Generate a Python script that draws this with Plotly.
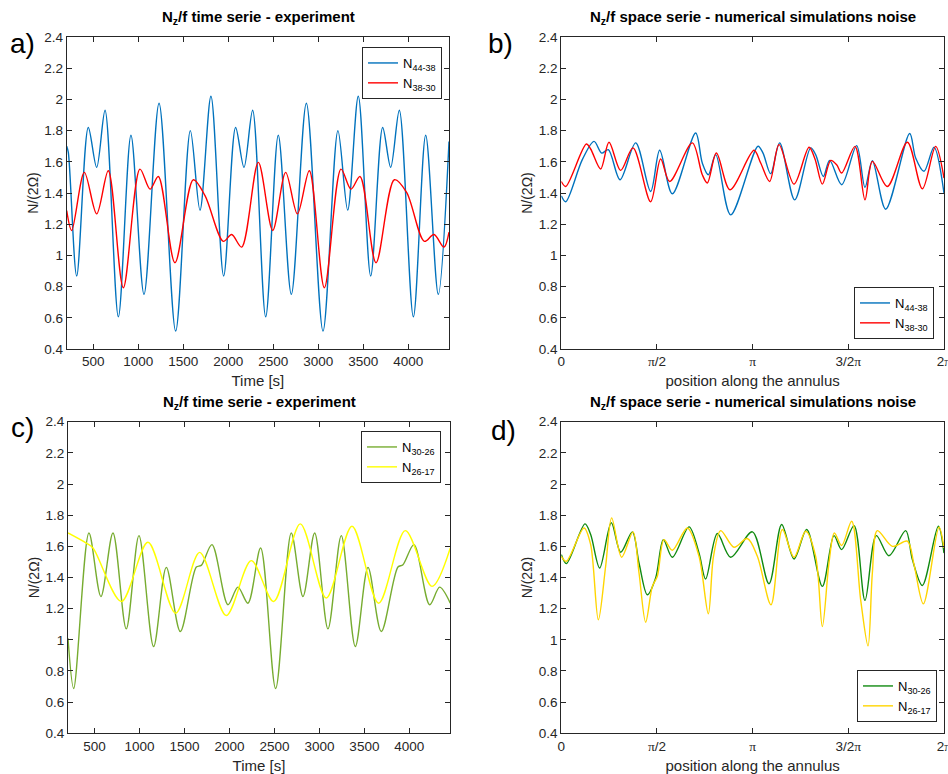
import plotly.graph_objects as go

# ---------------- data (extrema & key points) ----------------
# Panel a: experiment time series, time [s]
a_t_44_38 = [204, 222, 315, 444, 537, 630, 778, 918, 1063, 1230, 1415, 1578, 1685, 1807, 1948, 2081, 2174,
             2270, 2415, 2555, 2700, 2867, 3052, 3218, 3326, 3444, 3582, 3715, 3804, 3900, 4056, 4193, 4333, 4452]
a_v_44_38 = [1.70, 1.66, 0.868, 1.82, 1.564, 1.93, 0.606, 1.77, 0.75, 1.975, 0.515, 1.80, 1.29, 2.02, 0.868, 1.82, 1.564,
             1.93, 0.606, 1.77, 0.75, 1.975, 0.515, 1.80, 1.29, 2.02, 0.868, 1.82, 1.564, 1.93, 0.606, 1.77, 0.75, 1.73]
a_t_38_30 = [204, 259, 400, 537, 666, 833, 1018, 1130, 1222, 1407, 1611, 1741, 1944, 2037, 2148, 2333, 2493,
             2637, 2767, 2900, 3067, 3252, 3363, 3463, 3641, 3845, 3981, 4178, 4285, 4396, 4452]
a_v_38_30 = [1.287, 1.16, 1.532, 1.266, 1.543, 0.793, 1.553, 1.425, 1.506, 0.953, 1.485, 1.383, 1.09, 1.134, 1.053, 1.596, 1.16,
             1.532, 1.266, 1.543, 0.793, 1.553, 1.425, 1.506, 0.953, 1.485, 1.404, 1.09, 1.134, 1.053, 1.149]

# Panel b: numerical simulation, position along the annulus [rad]
b_x_44_38 = [0.0, 0.072, 0.345, 0.537, 0.663, 0.772, 0.964, 1.221, 1.467, 1.615, 1.823, 2.206, 2.315, 2.414, 2.535,
             2.781, 3.230, 3.312, 3.437, 3.585, 3.832, 4.094, 4.176, 4.302, 4.406, 4.603, 4.849, 4.986, 5.107, 5.326,
             5.720, 5.818, 5.955, 6.119, 6.283]
b_v_44_38 = [1.382, 1.344, 1.614, 1.731, 1.656, 1.678, 1.485, 1.721, 1.410, 1.674, 1.395, 1.785, 1.592, 1.517, 1.646,
             1.26, 1.70, 1.656, 1.524, 1.721, 1.356, 1.689, 1.646, 1.506, 1.609, 1.453, 1.704, 1.436, 1.607, 1.296,
             1.781, 1.624, 1.539, 1.693, 1.40]
b_x_38_30 = [0.0, 0.072, 0.411, 0.482, 0.646, 0.783, 0.975, 1.177, 1.467, 1.631, 1.779, 2.151, 2.315, 2.398, 2.546,
             2.770, 3.164, 3.274, 3.421, 3.574, 3.821, 4.067, 4.165, 4.286, 4.423, 4.521, 4.603, 4.822, 4.986, 5.107,
             5.353, 5.682, 5.928, 6.146, 6.283]
b_v_38_30 = [1.474, 1.442, 1.714, 1.682, 1.554, 1.725, 1.545, 1.689, 1.344, 1.618, 1.474, 1.721, 1.517, 1.464, 1.656,
             1.421, 1.674, 1.592, 1.474, 1.710, 1.457, 1.693, 1.618, 1.457, 1.609, 1.581, 1.528, 1.699, 1.356, 1.603,
             1.442, 1.725, 1.427, 1.699, 1.496]

# Panel c: experiment time series, time [s]
c_t_30_26 = [204, 267, 437, 570, 704, 852, 993, 1156, 1297, 1453, 1631, 1686, 1805, 1983, 2094, 2205, 2346, 2513,
             2687, 2817, 2947, 3095, 3243, 3399, 3540, 3688, 3873, 3929, 4051, 4226, 4337, 4455]
c_v_30_26 = [1.01, 0.688, 1.686, 1.278, 1.686, 1.07, 1.669, 0.957, 1.465, 1.053, 1.467, 1.478, 1.611, 1.225, 1.338, 1.235, 1.589, 0.688,
             1.686, 1.278, 1.686, 1.07, 1.669, 0.957, 1.465, 1.053, 1.467, 1.482, 1.611, 1.225, 1.338, 1.235]
c_t_26_17 = [204, 407, 482, 797, 1093, 1401, 1668, 1964, 2242, 2491, 2787, 3076, 3362, 3658, 3955, 4252, 4455]
c_v_26_17 = [1.686, 1.621, 1.589, 1.246, 1.626, 1.171, 1.561, 1.156, 1.508, 1.246, 1.744, 1.268, 1.729, 1.235, 1.701, 1.343, 1.589]

# Panel d: numerical simulation, position along the annulus [rad]
d_x_30_26 = [0.0, 0.083, 0.389, 0.482, 0.630, 0.821, 0.975, 1.166, 1.276, 1.412, 1.549, 1.675, 1.823, 2.097, 2.261,
             2.370, 2.562, 2.781, 3.137, 3.410, 3.618, 3.821, 4.029, 4.286, 4.477, 4.603, 4.806, 4.986, 5.172, 5.380,
             5.654, 5.764, 5.928, 6.190, 6.283]
d_v_30_26 = [1.547, 1.489, 1.744, 1.676, 1.461, 1.751, 1.562, 1.693, 1.493, 1.289, 1.397, 1.643, 1.530, 1.725, 1.557,
             1.390, 1.682, 1.530, 1.693, 1.360, 1.740, 1.519, 1.708, 1.343, 1.669, 1.579, 1.733, 1.253, 1.669, 1.540,
             1.701, 1.515, 1.349, 1.729, 1.557]
d_x_26_17 = [0.0, 0.083, 0.373, 0.482, 0.608, 0.728, 0.827, 0.991, 1.177, 1.276, 1.385, 1.495, 1.577, 1.686, 1.823,
             2.069, 2.261, 2.414, 2.499, 2.617, 2.835, 3.054, 3.219, 3.443, 3.629, 3.821, 4.012, 4.176, 4.286, 4.395,
             4.483, 4.603, 4.767, 4.915, 5.036, 5.107, 5.189, 5.435, 5.682, 5.791, 5.944, 6.201, 6.283]
d_v_26_17 = [1.536, 1.504, 1.718, 1.611, 1.128, 1.472, 1.783, 1.530, 1.693, 1.429, 1.113, 1.343, 1.408, 1.643, 1.575,
             1.718, 1.536, 1.167, 1.536, 1.701, 1.594, 1.650, 1.536, 1.225, 1.708, 1.530, 1.697, 1.536, 1.085, 1.494,
             1.686, 1.605, 1.761, 1.257, 0.961, 1.429, 1.701, 1.600, 1.633, 1.483, 1.231, 1.723, 1.59]

# axis ticks
y_ticks = [0.4, 0.6, 0.8, 1.0, 1.2, 1.4, 1.6, 1.8, 2.0, 2.2, 2.4]
y_ticklabels = ["0.4", "0.6", "0.8", "1", "1.2", "1.4", "1.6", "1.8", "2", "2.2", "2.4"]
time_ticks = [500, 1000, 1500, 2000, 2500, 3000, 3500, 4000]
time_ticklabels = ["500", "1000", "1500", "2000", "2500", "3000", "3500", "4000"]
pos_ticks = [0.0, 1.5707963, 3.1415927, 4.712389, 6.2831853]
PI = "<span style='font-family:Liberation Serif, Times New Roman, serif'>π</span>"
pos_ticklabels = ["0", PI + "/2", PI, "3/2" + PI, "2" + PI]

titles = ["<b>N<sub>z</sub>/f time serie - experiment</b>",
          "<b>N<sub>z</sub>/f space serie - numerical simulations noise</b>",
          "<b>N<sub>z</sub>/f time serie - experiment</b>",
          "<b>N<sub>z</sub>/f space serie - numerical simulations noise</b>"]
panel_labels = ["a)", "b)", "c)", "d)"]

# ---------------- figure ----------------
W, H = 948, 774
FONT = "Helvetica, Arial, Liberation Sans, sans-serif"
AX = "#262626"

fig = go.Figure()

def add(x, y, name, color, xa, ya, leg):
    fig.add_trace(go.Scatter(x=x, y=y, mode="lines", name=name,
                             line=dict(color=color, width=1.4, shape="spline", smoothing=0.9),
                             xaxis=xa, yaxis=ya, legend=leg, showlegend=True))

add(a_t_44_38, a_v_44_38, "N<sub>44-38</sub>", "#0072BD", "x", "y", "legend")
add(a_t_38_30, a_v_38_30, "N<sub>38-30</sub>", "#FF0000", "x", "y", "legend")
add(b_x_44_38, b_v_44_38, "N<sub>44-38</sub>", "#0072BD", "x2", "y2", "legend2")
add(b_x_38_30, b_v_38_30, "N<sub>38-30</sub>", "#FF0000", "x2", "y2", "legend2")
add(c_t_30_26, c_v_30_26, "N<sub>30-26</sub>", "#77AC30", "x3", "y3", "legend3")
add(c_t_26_17, c_v_26_17, "N<sub>26-17</sub>", "#FFFF00", "x3", "y3", "legend3")
add(d_x_30_26, d_v_30_26, "N<sub>30-26</sub>", "#108A10", "x4", "y4", "legend4")
add(d_x_26_17, d_v_26_17, "N<sub>26-17</sub>", "#FFD500", "x4", "y4", "legend4")

# domains in pixels -> paper fractions
def fx(px): return px / W
def fy(py): return 1 - py / H

doms = {
    1: ((66.7, 449.0), (37.0, 349.0)),
    2: ((561.3, 944.0), (37.0, 349.0)),
    3: ((68.0, 450.0), (421.7, 733.3)),
    4: ((561.3, 944.0), (421.7, 733.3)),
}

def xaxis(dom, kind):
    d = dict(domain=[fx(dom[0]), fx(dom[1])], showline=True, mirror="ticks", linecolor=AX, linewidth=1,
             ticks="inside", ticklen=5, tickcolor=AX, showgrid=False, zeroline=False, automargin=False,
             ticklabeloverflow="allow",
             tickfont=dict(family=FONT, size=13.5, color=AX),
             title=dict(font=dict(family=FONT, size=15, color=AX), standoff=7))
    if kind == "time":
        d.update(range=[204, 4452], tickvals=time_ticks, ticktext=time_ticklabels, title_text="Time [s]")
    else:
        d.update(range=[0, 6.2831853], tickvals=pos_ticks, ticktext=pos_ticklabels,
                 title_text="position along the annulus")
    return d

def yaxis(dom):
    return dict(domain=[fy(dom[1]), fy(dom[0])], range=[0.4, 2.4], tickvals=y_ticks, ticktext=y_ticklabels,
                showline=True, mirror="ticks", linecolor=AX, linewidth=1, ticks="inside", ticklen=5,
                tickcolor=AX, showgrid=False, zeroline=False, automargin=False, ticklabeloverflow="allow",
                tickfont=dict(family=FONT, size=13.5, color=AX),
                title=dict(text="N/(2Ω)", font=dict(family=FONT, size=14, color=AX), standoff=2))

layout = dict(template="none", width=W, height=H, margin=dict(l=0, r=0, t=0, b=0, autoexpand=False),
              paper_bgcolor="white", plot_bgcolor="white", font=dict(family=FONT, color=AX))
kinds = {1: "time", 2: "pos", 3: "time", 4: "pos"}
for i in range(1, 5):
    sx = "" if i == 1 else str(i)
    layout["xaxis" + sx] = xaxis(doms[i][0], kinds[i])
    layout["xaxis" + sx]["anchor"] = "y" + sx
    layout["yaxis" + sx] = yaxis(doms[i][1])
    layout["yaxis" + sx]["anchor"] = "x" + sx

def legend(x, y, xanchor, yanchor):
    return dict(x=fx(x), y=fy(y), xanchor=xanchor, yanchor=yanchor, bgcolor="white",
                bordercolor="#262626", borderwidth=1, font=dict(family=FONT, size=13, color="black"),
                itemwidth=30, tracegroupgap=0)

layout["legend"] = legend(442, 47, "right", "top")
layout["legend2"] = legend(934, 339, "right", "bottom")
layout["legend3"] = legend(441, 431, "right", "top")
layout["legend4"] = legend(937, 722, "right", "bottom")

fig.update_layout(**layout)

# titles and panel labels
title_pos = [(258, 17), (752.7, 17), (259, 402), (752.7, 402)]
label_pos = [(22, 44), (500, 43), (22, 427), (504, 430)]
for i in range(4):
    fig.add_annotation(text=titles[i], x=fx(title_pos[i][0]), y=fy(title_pos[i][1]), xref="paper", yref="paper",
                       showarrow=False, xanchor="center", yanchor="middle",
                       font=dict(family=FONT, size=15, color="black"))
    fig.add_annotation(text=panel_labels[i], x=fx(label_pos[i][0]), y=fy(label_pos[i][1]), xref="paper",
                       yref="paper", showarrow=False, xanchor="center", yanchor="middle",
                       font=dict(family=FONT, size=28, color="black"))

# remove the browser's default 8px body margin so the figure sits at the page origin
fig.write_html("out.html", config={"displayModeBar": False},
               post_script="document.body.style.margin='0';")
